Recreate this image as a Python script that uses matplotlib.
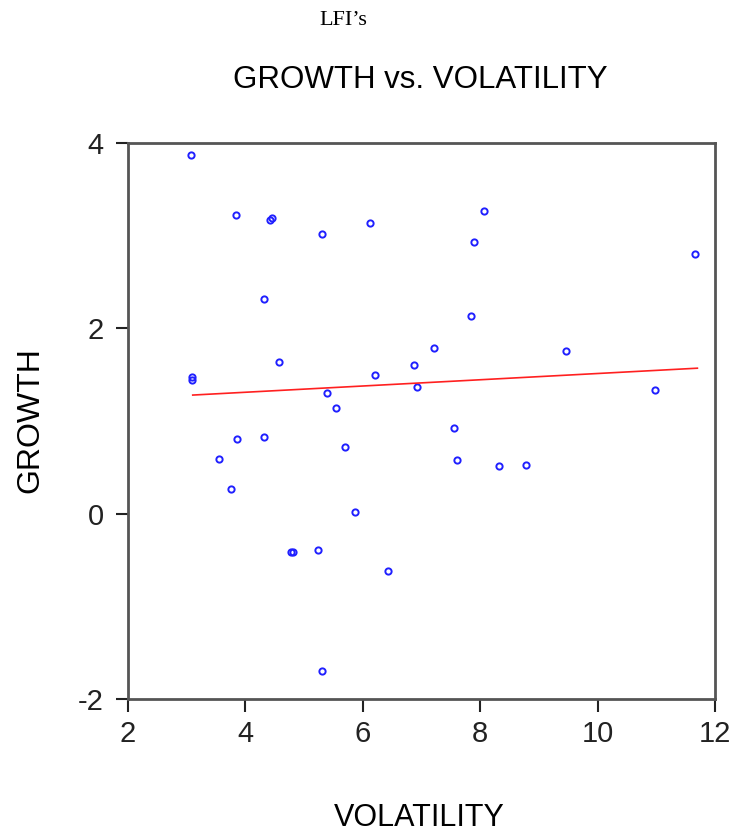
import numpy as np
from matplotlib import pyplot as plt

# values
volatility = [3.08, 3.85, 4.42, 4.46, 5.31, 6.12, 4.32, 4.57, 3.10, 3.09,
              6.22, 6.87, 6.93, 5.39, 5.55, 8.06, 7.90, 11.66, 7.85, 7.21,
              9.46, 10.98, 7.55, 3.86, 4.32, 5.71, 3.56, 3.76, 5.88, 4.79,
              4.81, 5.25, 6.44, 5.31, 7.60, 8.32, 8.79]
growth = [3.87, 3.22, 3.17, 3.19, 3.02, 3.14, 2.32, 1.64, 1.48, 1.44,
          1.50, 1.60, 1.37, 1.30, 1.14, 3.27, 2.93, 2.80, 2.13, 1.79,
          1.76, 1.33, 0.92, 0.81, 0.83, 0.72, 0.59, 0.27, 0.02, -0.41,
          -0.41, -0.39, -0.62, -1.70, 0.58, 0.51, 0.53]

# regression line as drawn in the reference (endpoints)
fit_x = [3.11, 11.70]
fit_y = [1.28, 1.57]

xticks = [2, 4, 6, 8, 10, 12]
yticks = [-2, 0, 2, 4]

plt.rcParams["font.family"] = ["Liberation Sans", "DejaVu Sans"]
plt.rcParams["axes.unicode_minus"] = False

fig = plt.figure(figsize=(7.35, 8.35), dpi=100)
ax = fig.add_axes([0.1735, 0.1629, 0.7993, 0.6658])

ax.plot(volatility, growth, linestyle="", marker="o", markersize=4.5,
        markerfacecolor="none", markeredgecolor="#2020ff", markeredgewidth=1.4)
ax.plot(fit_x, fit_y, color="#ff2020", linewidth=1.2)

ax.set_xlim(2, 12)
ax.set_ylim(-2, 4)
ax.set_xticks(xticks)
ax.set_yticks(yticks)
ax.tick_params(direction="out", length=9, width=1.5, labelsize=21, pad=6,
               colors="#222222")
ax.tick_params(axis="y", pad=8)
for sp in ax.spines.values():
    sp.set_linewidth(2)
    sp.set_color("#555555")

# axis labels and title placed where the reference has them
fig.text(0.571, 0.020, "VOLATILITY", fontsize=22, ha="center", va="center")
fig.text(0.041, 0.497, "GROWTH", fontsize=23, ha="center", va="center",
         rotation=90)
fig.text(0.572, 0.904, "GROWTH vs. VOLATILITY", fontsize=22.5,
         ha="center", va="center")
fig.text(0.467, 0.975, "LFI\u2019s", family="Liberation Serif", fontsize=16,
         ha="center", va="center")

plt.savefig("out.png", dpi=100)
